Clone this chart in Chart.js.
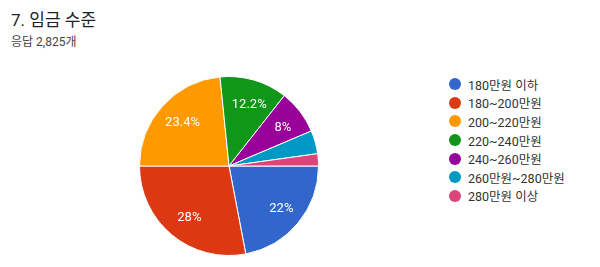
<!DOCTYPE html>
<html><head><meta charset="utf-8">
<script src="https://cdn.jsdelivr.net/npm/chart.js@4.4.1/dist/chart.umd.min.js"></script>
<style>
html,body{margin:0;padding:0;background:#fff;width:600px;height:267px;overflow:hidden;font-family:Roboto,"Noto Sans CJK KR",sans-serif;}
#title{position:absolute;left:11px;top:6px;font-size:17px;color:#202124;font-family:Roboto,"Noto Sans CJK KR";}
#sub{position:absolute;left:11px;top:32px;font-size:12px;color:#444;font-family:Roboto,"Noto Sans CJK KR";}
#wrap{position:absolute;left:129px;top:66px;width:200px;height:200px;}
#legend{position:absolute;left:449px;top:75px;}
.row{height:18.6px;display:flex;align-items:center;font-size:12.5px;color:#333;font-family:Roboto,"Noto Sans CJK KR";}
.dot{width:12px;height:12px;border-radius:50%;margin-right:7px;flex:none;}
</style></head><body>
<div id="title">7. 임금 수준</div>
<div id="sub">응답 2,825개</div>
<div id="wrap"><canvas id="c" width="200" height="200"></canvas></div>
<div id="legend"></div>
<script>
const categories = ["180만원 이하","180~200만원","200~220만원","220~240만원","240~260만원","260만원~280만원","280만원 이상"];
const values = [22, 28, 23.4, 12.2, 8, 4.2, 2.2];
const valueLabels = ["22%","28%","23.4%","12.2%","8%","",""];
const colors = ["#3366cc","#dc3912","#ff9900","#109618","#990099","#0099c6","#dd4477"];

const lg = document.getElementById('legend');
categories.forEach((c,i)=>{
  const r=document.createElement('div');r.className='row';
  r.innerHTML='<span class="dot" style="background:'+colors[i]+'"></span><span>'+c+'</span>';
  lg.appendChild(r);
});

const labelPlugin = {
  id:'lbl',
  afterDatasetsDraw(chart){
    const ctx=chart.ctx;
    const meta=chart.getDatasetMeta(0);
    ctx.save();
    ctx.fillStyle='#fff';
    ctx.font='13px Roboto, "Noto Sans CJK KR"';
    ctx.textAlign='center';ctx.textBaseline='middle';
    meta.data.forEach((arc,i)=>{
      if(!valueLabels[i]) return;
      const p=arc.getProps(['x','y','startAngle','endAngle','outerRadius'],true);
      const a=(p.startAngle+p.endAngle)/2;
      const r=p.outerRadius*0.73;
      ctx.fillText(valueLabels[i], p.x+Math.cos(a)*r+2, p.y+Math.sin(a)*r+1);
    });
    ctx.restore();
  }
};

new Chart(document.getElementById('c'),{
  type:'pie',
  data:{labels:categories,datasets:[{data:values,backgroundColor:colors,borderColor:'#fff',borderWidth:1}]},
  options:{
    responsive:false,animation:false,rotation:90,
    layout:{padding:10},
    plugins:{legend:{display:false},tooltip:{enabled:false}}
  },
  plugins:[labelPlugin]
});
</script>
</body></html>
